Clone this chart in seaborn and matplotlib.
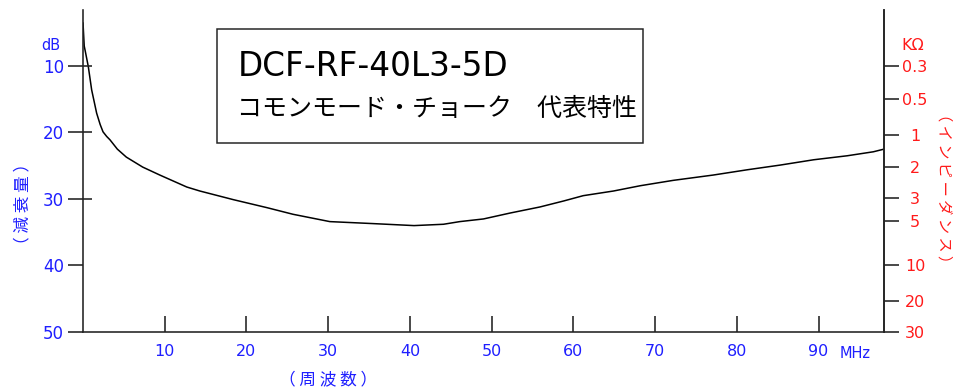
import matplotlib
matplotlib.use("Agg")
import matplotlib.pyplot as plt
import seaborn as sns
import pandas as pd

# ---- data ----
freq_mhz = [0.0, 0.15, 0.25, 0.65, 1.06, 1.67, 2.1, 2.45, 2.9, 3.3, 4.2, 5.3, 7.3, 9.4,
            12.7, 14.3, 18.4, 22.5, 25.7, 30.2, 35.5, 40.5, 44.1, 46.1, 49.0, 52.3,
            55.9, 58.8, 61.2, 64.9, 68.2, 72.2, 77.1, 81.3, 85.3, 89.4, 93.5, 96.7, 98.0]
atten_db = [3.5, 7.0, 7.6, 10.1, 13.6, 17.1, 18.8, 19.9, 20.6, 21.1, 22.5, 23.7, 25.2,
            26.4, 28.2, 28.8, 30.1, 31.3, 32.3, 33.4, 33.7, 34.0, 33.8, 33.4, 33.0,
            32.1, 31.2, 30.3, 29.5, 28.8, 28.0, 27.2, 26.4, 25.6, 24.9, 24.1, 23.5,
            22.9, 22.5]
db_ticks = [10, 20, 30, 40, 50]
db_inner_ticks = [10, 20, 30]
x_ticks = [10, 20, 30, 40, 50, 60, 70, 80, 90]
x_tick_labels = ["10", "20", "30", "40", "50", "60", "70", "80", "90"]
imp_positions_db = [10, 15, 20.4, 25.2, 29.8, 33.3, 40, 45.4, 50]
imp_labels = ["0.3", "0.5", "1", "2", "3", "5", "10", "20", "30"]
title1 = "DCF-RF-40L3-5D"
title2 = "コモンモード・チョーク　代表特性"

sns.set_theme(style="white")
plt.rcParams['font.family'] = ['DejaVu Sans', 'Noto Sans CJK JP']

BLUE = "#1f1fff"
RED = "#ff1a1a"
DARK = "#222222"
PT = 72 / 100.0  # points per pixel at dpi 100
CJK = ['Noto Sans CJK JP', 'DejaVu Sans']

fig = plt.figure(figsize=(9.54, 3.92), dpi=100)
ax = fig.add_axes([83/954, 1-332/392, (884-83)/954, (332-10)/392])
df = pd.DataFrame({"f": freq_mhz, "a": atten_db})
sns.lineplot(data=df, x="f", y="a", ax=ax, color="black", lw=1.1,
             sort=False, estimator=None)
ax.set_xlim(0, 98)
ax.set_ylim(50, 1.58)
ax.set_xlabel("")
ax.set_ylabel("")

ax.spines["top"].set_visible(False)
for s in ["left", "bottom", "right"]:
    ax.spines[s].set_visible(True)
    ax.spines[s].set_color(DARK)
    ax.spines[s].set_linewidth(1.6 * PT)

# left ticks (outward part + labels)
ax.set_yticks(db_ticks)
ax.set_yticklabels([str(v) for v in db_ticks])
ax.tick_params(axis="y", which="major", direction="out", length=15 * PT,
               width=1.6 * PT, color=DARK, labelcolor=BLUE, labelsize=12,
               pad=4 * PT, left=True)

# inward part of the 10/20/30 ticks via a twin axis on the left
ax3 = ax.twinx()
ax3.set_ylim(50, 1.58)
ax3.yaxis.tick_left()
ax3.set_yticks(db_inner_ticks)
ax3.set_yticklabels([])
ax3.tick_params(axis="y", direction="in", length=9 * PT, width=1.6 * PT,
                color=DARK, left=True, right=False)
ax3.grid(False)
for s in ax3.spines.values():
    s.set_visible(False)

ax.set_xticks(x_ticks)
ax.set_xticklabels(x_tick_labels)
ax.set_xticks([], minor=True)
ax.tick_params(axis="x", which="major", direction="in", length=16 * PT,
               width=1.6 * PT, color=DARK, labelcolor=BLUE, labelsize=11.5,
               pad=12 * PT, bottom=True)
fig.text(855/954, 1-353/392, "MHz", color=BLUE, fontsize=10.5,
         ha="center", va="center")

# right axis (impedance)
ax2 = ax.twinx()
ax2.set_ylim(50, 1.58)
ax2.set_yticks(imp_positions_db)
ax2.set_yticklabels(imp_labels)
ax2.tick_params(axis="y", direction="out", length=15 * PT, width=1.6 * PT,
                color=DARK, labelcolor=RED, labelsize=11.5, pad=16 * PT, right=True)
for lab in ax2.get_yticklabels():
    lab.set_ha("center")
ax2.grid(False)
for s in ax2.spines.values():
    s.set_visible(False)
ax2.spines["right"].set_visible(True)
ax2.spines["right"].set_color(DARK)
ax2.spines["right"].set_linewidth(1.6 * PT)

# axis captions
fig.text(51/954, 1-45/392, "dB", color=BLUE, fontsize=10.5, ha="center", va="center")
fig.text(913/954, 1-45/392, "KΩ", color=RED, fontsize=11.5, ha="center", va="center")
fig.text(23/954, 1-204/392, "（ 減 衰 量 ）", color=BLUE, fontsize=12, rotation=90,
         ha="center", va="center", family=CJK)
fig.text(944/954, 1-188/392, "（ イ ン ピ ー ダ ン ス ）", color=RED, fontsize=11,
         rotation=270, ha="center", va="center", family=CJK)
fig.text(328/954, 1-380/392, "（ 周 波 数 ）", color=BLUE, fontsize=12,
         ha="center", va="center", family=CJK)

# title box
box = plt.Rectangle((217/954, 1-143/392), (643-217)/954, (143-29)/392,
                    transform=fig.transFigure, fill=False, ec=DARK, lw=1.5 * PT)
fig.add_artist(box)
fig.text(238/954, 1-67/392, title1, fontsize=23.5, color="black",
         ha="left", va="center", family=['DejaVu Sans'])
fig.text(237/954, 1-109/392, title2, fontsize=18, color="black",
         ha="left", va="center", family=CJK)

fig.savefig("out.png", dpi=100)
